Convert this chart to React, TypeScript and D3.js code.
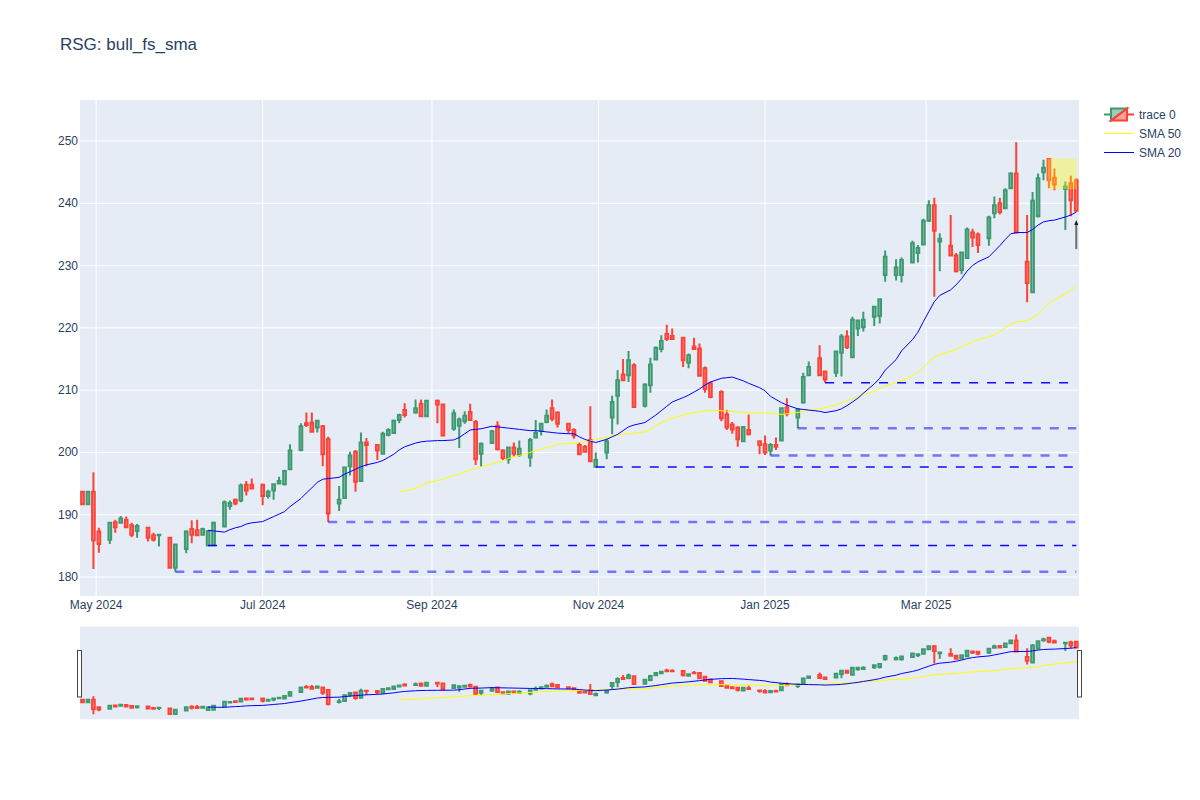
import React from 'react';
import * as d3 from 'd3';

// candle dates (every bar)
const dates = [
  '2024-04-26', '2024-04-28', '2024-04-30', '2024-05-02', '2024-05-06', '2024-05-08', '2024-05-10', '2024-05-12', '2024-05-14', '2024-05-16',
  '2024-05-20', '2024-05-22', '2024-05-24', '2024-05-28', '2024-05-30', '2024-06-03', '2024-06-05', '2024-06-07', '2024-06-09', '2024-06-11',
  '2024-06-13', '2024-06-17', '2024-06-19', '2024-06-21', '2024-06-23', '2024-06-25', '2024-06-27', '2024-07-01', '2024-07-03', '2024-07-05',
  '2024-07-07', '2024-07-09', '2024-07-11', '2024-07-15', '2024-07-17', '2024-07-19', '2024-07-21', '2024-07-23', '2024-07-25', '2024-07-29',
  '2024-07-31', '2024-08-02', '2024-08-04', '2024-08-06', '2024-08-08', '2024-08-12', '2024-08-14', '2024-08-16', '2024-08-18', '2024-08-20',
  '2024-08-22', '2024-08-26', '2024-08-28', '2024-08-30', '2024-09-03', '2024-09-05', '2024-09-09', '2024-09-11', '2024-09-13', '2024-09-15',
  '2024-09-17', '2024-09-19', '2024-09-23', '2024-09-25', '2024-09-27', '2024-09-29', '2024-10-01', '2024-10-03', '2024-10-07', '2024-10-09',
  '2024-10-11', '2024-10-13', '2024-10-15', '2024-10-17', '2024-10-21', '2024-10-23', '2024-10-25', '2024-10-27', '2024-10-29', '2024-10-31',
  '2024-11-04', '2024-11-06', '2024-11-08', '2024-11-10', '2024-11-12', '2024-11-14', '2024-11-18', '2024-11-20', '2024-11-22', '2024-11-24',
  '2024-11-26', '2024-11-28', '2024-12-02', '2024-12-04', '2024-12-06', '2024-12-08', '2024-12-10', '2024-12-12', '2024-12-16', '2024-12-18',
  '2024-12-20', '2024-12-22', '2024-12-24', '2024-12-26', '2024-12-30', '2025-01-01', '2025-01-03', '2025-01-05', '2025-01-07', '2025-01-09',
  '2025-01-13', '2025-01-15', '2025-01-17', '2025-01-21', '2025-01-23', '2025-01-27', '2025-01-29', '2025-01-31', '2025-02-02', '2025-02-04',
  '2025-02-06', '2025-02-10', '2025-02-12', '2025-02-14', '2025-02-18', '2025-02-20', '2025-02-24', '2025-02-26', '2025-02-28', '2025-03-02',
  '2025-03-04', '2025-03-06', '2025-03-10', '2025-03-12', '2025-03-14', '2025-03-16', '2025-03-18', '2025-03-20', '2025-03-24', '2025-03-26',
  '2025-03-28', '2025-03-30', '2025-04-01', '2025-04-03', '2025-04-07', '2025-04-09', '2025-04-11', '2025-04-13', '2025-04-15', '2025-04-17',
  '2025-04-21', '2025-04-23', '2025-04-25',
];

const open = [
  193.7, 191.7, 193.7, 187.3, 186.0, 188.8, 188.7, 189.2, 188.3, 187.4,
  187.9, 186.7, 186.7, 186.3, 181.5, 184.5, 187.7, 187.5, 186.8, 185.05,
  185.1, 188.1, 191.4, 192.4, 192.3, 194.8, 194.8, 194.8, 193.0, 193.9,
  195.0, 194.9, 197.3, 200.4, 204.7, 204.8, 204.0, 204.2, 202.1, 191.8,
  192.7, 197.8, 200.1, 195.4, 201.6, 201.2, 199.8, 202.8, 203.1, 205.2,
  206.8, 206.4, 207.8, 205.8, 208.3, 207.7, 203.8, 204.3, 205.0, 206.5,
  204.9, 199.8, 201.5, 204.3, 200.3, 198.9, 200.8, 199.6, 199.2, 202.4,
  203.5, 204.9, 207.1, 206.4, 204.6, 203.6, 201.2, 200.9, 202.0, 197.7,
  200.0, 205.6, 209.1, 212.5, 212.4, 214.0, 207.5, 210.8, 214.9, 216.6,
  219.0, 218.7, 218.4, 214.4, 217.0, 216.7, 213.5, 211.1, 209.7, 206.1,
  204.5, 204.0, 201.8, 203.6, 201.8, 201.3, 200.3, 201.2, 201.9, 207.2,
  205.6, 208.0, 212.4, 215.1, 213.0, 212.8, 216.0, 218.6, 215.3, 219.9,
  220.1, 221.8, 221.9, 228.5, 228.5, 228.5, 230.5, 232.0, 233.4, 237.2,
  239.7, 233.85, 233.2, 231.6, 229.3, 231.2, 235.3, 235.0, 234.4, 238.4,
  240.0, 239.2, 242.4, 244.8, 230.6, 225.7, 237.9, 245.0, 247.1, 244.1,
  242.3, 243.2, 243.7,
];

const high = [
  193.8, 193.8, 196.8, 187.9, 188.7, 189.2, 189.8, 189.7, 188.7, 188.5,
  188.0, 187.1, 186.8, 186.3, 185.2, 187.5, 189.1, 189.2, 187.9, 187.5,
  188.9, 192.3, 192.3, 192.6, 195.0, 195.4, 195.8, 195.0, 194.0, 195.0,
  196.1, 197.2, 201.3, 204.7, 206.4, 206.4, 205.2, 204.4, 202.5, 194.6,
  197.7, 200.1, 200.4, 203.2, 202.3, 201.3, 203.3, 203.9, 205.3, 206.2,
  207.9, 208.5, 208.5, 208.4, 208.5, 207.8, 206.9, 205.6, 206.6, 207.8,
  205.2, 201.6, 203.6, 205.0, 200.5, 200.9, 201.6, 201.9, 202.3, 205.2,
  204.7, 206.9, 208.5, 206.6, 204.7, 203.9, 201.6, 201.2, 207.4, 200.0,
  202.2, 209.1, 213.2, 215.0, 216.3, 214.3, 211.1, 215.2, 217.0, 218.8,
  220.5, 219.9, 218.4, 215.9, 218.4, 217.5, 213.8, 211.4, 210.0, 206.8,
  204.9, 204.2, 204.1, 206.1, 201.9, 202.7, 201.5, 202.4, 207.2, 208.7,
  207.1, 212.8, 214.6, 217.2, 213.0, 216.3, 219.0, 219.6, 221.8, 221.3,
  222.6, 223.4, 224.6, 232.4, 231.0, 231.3, 234.0, 233.3, 237.5, 240.5,
  240.9, 235.2, 238.1, 232.0, 232.1, 236.1, 235.9, 235.3, 238.0, 241.1,
  240.9, 242.4, 245.0, 249.8, 238.1, 241.8, 244.8, 247.0, 247.2, 245.6,
  243.5, 244.4, 244.0,
];

const low = [
  191.5, 191.6, 181.3, 183.9, 185.3, 187.1, 188.7, 188.0, 186.4, 186.3,
  185.7, 185.7, 184.9, 181.5, 180.85, 183.8, 185.4, 186.7, 186.7, 185.05,
  185.1, 188.0, 190.8, 191.5, 192.0, 193.1, 194.2, 191.5, 192.6, 192.4,
  195.0, 194.7, 197.2, 200.2, 204.1, 203.2, 203.2, 197.8, 188.85, 190.6,
  192.6, 196.3, 193.7, 195.3, 197.8, 198.8, 199.7, 202.6, 203.0, 204.7,
  205.6, 206.2, 205.8, 205.8, 204.7, 202.7, 203.5, 200.7, 204.6, 205.2,
  198.0, 197.7, 201.4, 200.3, 198.8, 198.2, 199.3, 199.3, 197.7, 202.3,
  202.7, 204.7, 205.0, 204.0, 203.0, 202.2, 199.6, 200.0, 198.6, 197.65,
  198.9, 202.9, 204.5, 211.6, 211.3, 207.2, 207.2, 209.6, 214.8, 216.1,
  217.9, 218.1, 213.7, 213.5, 216.6, 212.2, 209.6, 208.7, 205.0, 203.6,
  203.0, 200.9, 201.8, 202.7, 199.7, 199.6, 199.5, 200.4, 201.8, 205.8,
  203.9, 207.8, 212.3, 212.4, 211.2, 212.1, 212.2, 216.6, 215.1, 218.7,
  219.4, 220.3, 220.7, 227.4, 227.6, 227.3, 230.4, 230.5, 233.3, 237.0,
  225.0, 229.1, 231.6, 228.9, 228.6, 231.1, 233.0, 232.0, 233.2, 237.6,
  238.2, 239.1, 242.3, 235.1, 224.1, 225.6, 237.7, 243.7, 242.4, 242.1,
  235.7, 237.9, 238.8,
];

const close = [
  191.7, 193.7, 185.9, 185.3, 188.7, 188.0, 189.4, 188.0, 186.8, 188.2,
  186.3, 186.0, 186.8, 181.5, 185.2, 187.3, 186.8, 186.7, 187.7, 187.4,
  188.7, 192.0, 191.9, 191.8, 194.7, 193.9, 194.2, 193.0, 193.7, 194.9,
  195.4, 197.0, 200.3, 204.2, 204.4, 203.3, 205.1, 199.7, 190.2, 192.4,
  197.6, 199.5, 195.3, 201.6, 201.2, 200.3, 203.0, 203.6, 205.1, 206.0,
  206.0, 207.1, 205.8, 208.3, 207.7, 202.7, 206.3, 205.3, 205.9, 205.2,
  198.9, 201.4, 203.4, 200.5, 199.1, 200.8, 199.8, 200.6, 202.0, 203.1,
  204.6, 205.9, 205.4, 204.6, 203.6, 202.7, 199.7, 200.1, 198.6, 198.8,
  201.8, 208.1, 211.6, 211.6, 214.8, 207.3, 210.9, 214.1, 216.8, 217.9,
  218.2, 218.2, 214.8, 215.6, 216.6, 212.3, 210.2, 208.9, 205.5, 204.0,
  203.7, 202.1, 204.1, 202.9, 201.2, 200.0, 201.2, 200.9, 207.1, 206.2,
  206.9, 212.1, 213.7, 212.4, 211.7, 216.2, 218.6, 216.9, 221.3, 221.2,
  221.3, 223.4, 224.6, 231.4, 229.7, 230.9, 233.6, 232.8, 237.2, 239.7,
  235.6, 234.3, 231.6, 229.1, 232.1, 235.8, 234.5, 233.3, 237.7, 239.7,
  238.6, 242.1, 244.8, 235.3, 227.2, 240.4, 244.0, 245.7, 243.7, 243.0,
  242.7, 240.5, 238.8,
];

// moving averages, one value per candle (null before they start)
const sma20 = [
  ...Array(19).fill(null),
  187.5, 187.4, 187.2, 187.6, 187.9, 188.1, 188.5, 188.7, 188.9, 189.3,
  189.7, 190.1, 190.5, 191.3, 192.6, 193.5, 194.3, 195.2, 195.7, 195.8,
  196.0, 196.5, 196.9, 197.3, 197.7, 198.0, 198.4, 198.7, 199.2, 199.7,
  200.4, 200.9, 201.5, 201.7, 201.8, 201.9, 201.9, 202.0, 202.4, 203.0,
  203.6, 203.7, 203.8, 204.2, 204.1, 204.0, 203.9, 203.8, 203.7, 203.5,
  203.5, 203.4, 203.3, 203.2, 203.1, 203.0, 203.0, 202.5, 202.1, 201.8,
  201.6, 202.1, 202.5, 202.9, 203.5, 204.1, 204.4, 204.8, 205.4, 206.0,
  206.7, 207.4, 208.1, 208.8, 209.2, 209.7, 210.2, 210.8, 211.3, 211.9,
  212.0, 212.1, 211.8, 211.5, 211.1, 210.4, 209.9, 209.0, 208.5, 208.0,
  207.6, 207.0, 206.9, 206.8, 206.6, 206.4, 206.7, 207.0, 207.5, 208.1,
  208.7, 209.5, 211.0, 211.9, 213.2, 214.9, 216.3, 218.1, 219.3, 221.0,
  222.6, 224.2, 225.2, 226.1, 226.9, 227.9, 229.1, 230.0, 230.6, 231.4,
  232.3, 233.2, 234.2, 235.1, 235.3, 235.3, 235.8, 236.5, 237.0, 237.2,
  237.3, 237.8, 238.1, 238.6,
];

const sma50 = [
  ...Array(49).fill(null),
  193.7, 193.8, 194.2, 194.6, 195.1, 195.5, 195.7, 196.3, 196.5, 196.9,
  197.2, 197.4, 197.7, 198.2, 198.4, 198.7, 199.0, 199.3, 199.5, 200.0,
  200.3, 200.5, 200.8, 201.0, 201.4, 201.4, 201.5, 201.6, 201.7, 201.9,
  202.1, 202.4, 202.7, 202.8, 202.9, 203.0, 203.1, 203.3, 203.7, 204.3,
  204.8, 205.2, 205.5, 206.0, 206.2, 206.4, 206.5, 206.7, 206.8, 206.7,
  206.6, 206.6, 206.5, 206.4, 206.4, 206.3, 206.3, 206.3, 206.2, 206.1,
  206.2, 206.4, 206.6, 206.7, 207.0, 207.2, 207.6, 207.9, 208.3, 208.6,
  209.0, 209.3, 209.8, 210.3, 210.7, 211.2, 211.5, 212.3, 212.9, 213.7,
  214.5, 215.3, 215.7, 216.2, 216.5, 217.0, 217.4, 217.7, 218.1, 218.6,
  218.9, 219.4, 220.0, 220.6, 220.9, 221.1, 221.6, 222.2, 223.1, 223.9,
  224.5, 225.4, 226.0, 226.8,
];

// support levels drawn from a swing low to the last bar
const supportDates = ['2024-05-30', '2024-06-11', '2024-07-25', '2024-10-31', '2025-01-03', '2025-01-13', '2025-01-23'];
const supportLevels = [180.85, 185.05, 188.85, 197.65, 199.5, 203.9, 211.2];
const supportType = ['minor', 'major', 'minor', 'major', 'minor', 'minor', 'major'];

// highlighted zone and signal arrow
const zoneDates = ['2025-04-14T10:00', '2025-04-25T05:00'];
const zoneLevels = [242.25, 247.2];
const signalDate = '2025-04-25';
const signalLevel = 237.3;

const yTicks = [180, 190, 200, 210, 220, 230, 240, 250];
const xTickDates = ['2024-05-01', '2024-07-01', '2024-09-01', '2024-11-01', '2025-01-01', '2025-03-01'];
const xTickLabels = ['May 2024', 'Jul 2024', 'Sep 2024', 'Nov 2024', 'Jan 2025', 'Mar 2025'];

const FONT = '"Liberation Sans", Arial, sans-serif';
const TXT = '#2a3f5f';
const INC = '#3D9970';
const DEC = '#FF4136';
const INC_FILL = 'rgba(61,153,112,0.5)';
const DEC_FILL = 'rgba(255,65,54,0.5)';

const parseDay = d3.utcParse('%Y-%m-%d');
const parseTime = d3.utcParse('%Y-%m-%dT%H:%M');

const L = 80, R = 1079, T = 100, B = 596;
const ST = 626.7, SB = 719.3;

const x = d3.scaleUtc()
  .domain([parseTime('2024-04-25T02:00') as Date, parseTime('2025-04-26T00:00') as Date])
  .range([L, R]);
const yDomain = [176.95, 256.58];
const y = d3.scaleLinear().domain(yDomain).range([B, T]);
const ys = d3.scaleLinear().domain(yDomain).range([SB, ST]);

const bars = dates.map((d, i) => ({
  date: parseDay(d) as Date,
  o: open[i], h: high[i], l: low[i], c: close[i],
}));

const halfW = 1.34;

function candles(yy: d3.ScaleLinear<number, number>, prefix: string) {
  return bars.map((b, i) => {
    const cx = x(b.date);
    const up = b.c >= b.o;
    const top = yy(Math.max(b.o, b.c));
    const bot = yy(Math.min(b.o, b.c));
    const d = `M${cx - halfW},${bot}V${top}H${cx + halfW}V${bot}Z` +
      `M${cx},${top}V${yy(b.h)}M${cx},${bot}V${yy(b.l)}`;
    return (
      <path key={prefix + i} d={d} fill={up ? INC_FILL : DEC_FILL}
        stroke={up ? INC : DEC} strokeWidth={2} />
    );
  });
}

function smaPath(vals: (number | null)[], yy: d3.ScaleLinear<number, number>) {
  const line = d3.line<number | null>()
    .defined(v => v != null)
    .x((_, i) => x(bars[i].date))
    .y(v => yy(v as number));
  return line(vals) || '';
}

const App: React.FC = () => {
  const lastDate = bars[bars.length - 1].date;
  const ax = x(parseDay(signalDate) as Date);
  const ay = y(signalLevel);

  return (
    <svg width={1200} height={800} style={{ position: 'absolute', left: 0, top: 0, background: '#fff' }}
      fontFamily={FONT}>
      <defs>
        <clipPath id="mainClip"><rect x={L} y={T} width={R - L} height={B - T} /></clipPath>
        <clipPath id="sliderClip"><rect x={L} y={ST} width={R - L} height={SB - ST} /></clipPath>
      </defs>

      <text x={60} y={50} fontSize={17} fill={TXT}>RSG: bull_fs_sma</text>

      {/* main plot */}
      <rect x={L} y={T} width={R - L} height={B - T} fill="#E5ECF6" />
      {yTicks.map(t => (
        <line key={'gy' + t} x1={L} x2={R} y1={y(t)} y2={y(t)} stroke="#fff" strokeWidth={1} />
      ))}
      {xTickDates.map(t => (
        <line key={'gx' + t} x1={x(parseDay(t) as Date)} x2={x(parseDay(t) as Date)} y1={T} y2={B}
          stroke="#fff" strokeWidth={1} />
      ))}

      <g clipPath="url(#mainClip)">
        {candles(y, 'c')}
        <path d={smaPath(sma50, y)} fill="none" stroke="yellow" strokeWidth={1} />
        <path d={smaPath(sma20, y)} fill="none" stroke="blue" strokeWidth={1} />

        {supportLevels.map((lv, i) => {
          const major = supportType[i] === 'major';
          return (
            <line key={'s' + i} x1={x(parseDay(supportDates[i]) as Date)} x2={x(lastDate)}
              y1={y(lv)} y2={y(lv)}
              stroke={major ? 'rgba(0,0,255,0.95)' : 'rgba(0,0,255,0.5)'}
              strokeWidth={major ? 1.5 : 2.5} strokeDasharray="9,9" />
          );
        })}

        <rect x={x(parseTime(zoneDates[0]) as Date)} y={y(zoneLevels[1])}
          width={x(parseTime(zoneDates[1]) as Date) - x(parseTime(zoneDates[0]) as Date)}
          height={y(zoneLevels[0]) - y(zoneLevels[1])}
          fill="yellow" fillOpacity={0.35} />
      </g>

      {/* signal arrow */}
      <line x1={ax} x2={ax} y1={ay + 4} y2={ay + 29} stroke="#6e6e6e" strokeWidth={2} />
      <path d={`M${ax},${ay}L${ax - 2},${ay + 5}L${ax + 2},${ay + 5}Z`} fill="#1a1a1a" />

      {/* axes labels */}
      {yTicks.map(t => (
        <text key={'ty' + t} x={78} y={y(t) + 4} fontSize={12} fill={TXT} textAnchor="end">{t}</text>
      ))}
      {xTickDates.map((t, i) => (
        <text key={'tx' + t} x={x(parseDay(t) as Date)} y={609} fontSize={12} fill={TXT}
          textAnchor="middle">{xTickLabels[i]}</text>
      ))}

      {/* range slider */}
      <rect x={L} y={ST} width={R - L} height={SB - ST} fill="#E5ECF6" />
      <g clipPath="url(#sliderClip)">
        {candles(ys, 'm')}
        <path d={smaPath(sma50, ys)} fill="none" stroke="yellow" strokeWidth={1} />
        <path d={smaPath(sma20, ys)} fill="none" stroke="blue" strokeWidth={1} />
      </g>
      <rect x={77.5} y={650.5} width={4} height={46.5} fill="#fff" stroke="#444" strokeWidth={1} />
      <rect x={1077.5} y={650.5} width={4} height={46.5} fill="#fff" stroke="#444" strokeWidth={1} />

      {/* legend */}
      <g transform="translate(1119,114.5)">
        <path d="M-15,0H-8M-8,6V-6H8Z" fill={INC_FILL} stroke={INC} strokeWidth={2} />
        <path d="M15,0H8M8,-6V6H-8Z" fill={DEC_FILL} stroke={DEC} strokeWidth={2} />
      </g>
      <text x={1139} y={118.5} fontSize={12} fill={TXT}>trace 0</text>
      <line x1={1104} x2={1134} y1={133.5} y2={133.5} stroke="yellow" strokeWidth={1} />
      <text x={1139} y={137.5} fontSize={12} fill={TXT}>SMA 50</text>
      <line x1={1104} x2={1134} y1={152.5} y2={152.5} stroke="blue" strokeWidth={1} />
      <text x={1139} y={156.5} fontSize={12} fill={TXT}>SMA 20</text>
    </svg>
  );
};

export default App;
